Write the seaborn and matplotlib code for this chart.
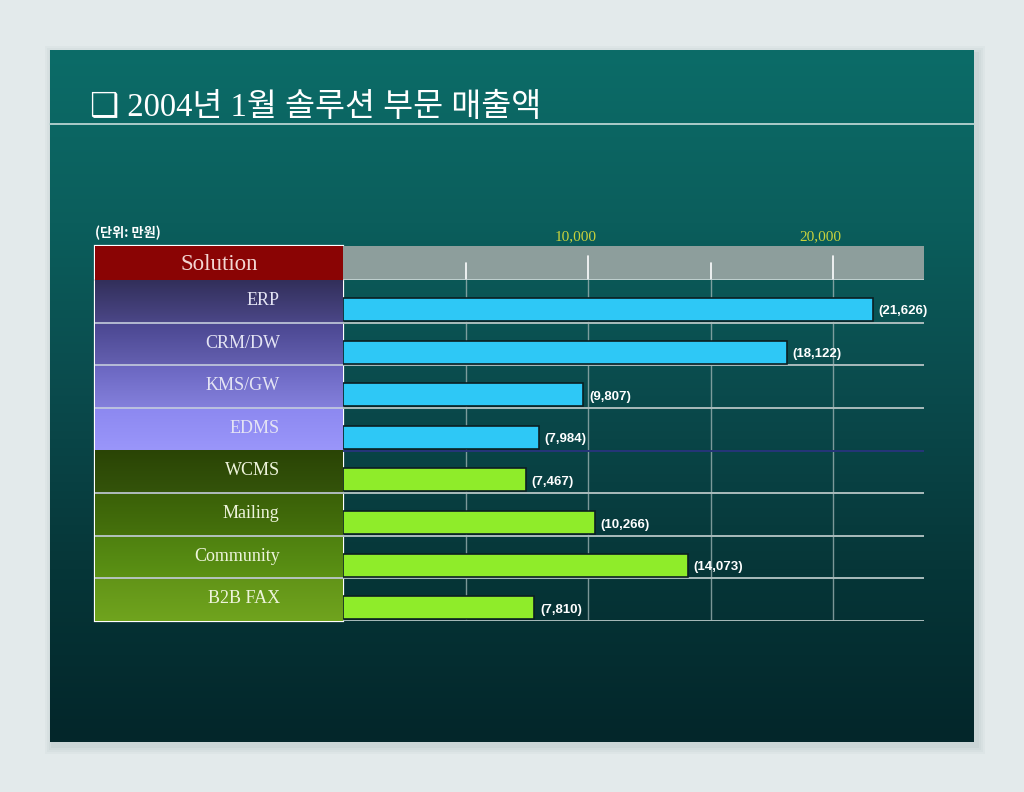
import numpy as np
import pandas as pd
import matplotlib
matplotlib.use("Agg")
import matplotlib.pyplot as plt
from matplotlib.colors import LinearSegmentedColormap
from matplotlib.patches import Rectangle
import seaborn as sns

# ---------------- data ----------------
categories = ["ERP", "CRM/DW", "KMS/GW", "EDMS", "WCMS", "Mailing", "Community", "B2B FAX"]
values = [21626, 18122, 9807, 7984, 7467, 10266, 14073, 7810]
value_labels = ["(21,626)", "(18,122)", "(9,807)", "(7,984)", "(7,467)", "(10,266)", "(14,073)", "(7,810)"]
groups = ["blue", "blue", "blue", "blue", "green", "green", "green", "green"]
tick_values = [5000, 10000, 15000, 20000]
tick_labels = ["", "10,000", "", "20,000"]
title = "❑ 2004년 1월 솔루션 부문 매출액"
unit_text = "(단위: 만원)"
header_text = "Solution"

# ---------------- style ----------------
sns.set_style("white")
plt.rcParams["font.family"] = ["Liberation Serif", "Noto Sans CJK KR", "DejaVu Sans"]

W, H = 1024, 792
fig = plt.figure(figsize=(W / 100, H / 100), dpi=100)
fig.patch.set_facecolor("#e3eaeb")

def rect(l, t, r, b):
    return [l / W, 1 - b / H, (r - l) / W, (b - t) / H]

# background canvas
bg = fig.add_axes([0, 0, 1, 1])
bg.set_xlim(0, W)
bg.set_ylim(H, 0)
bg.axis("off")
for i, a in enumerate([0.05, 0.05, 0.06, 0.07]):
    d = 8 - 2 * i
    bg.add_patch(Rectangle((50 - d + 3, 50 - d + 4), 924 + 2 * d, 692 + 2 * d,
                           color="#7a8c8e", alpha=a, lw=0))
panel_cmap = LinearSegmentedColormap.from_list(
    "panel", ["#0c6c68", "#0b5e5c", "#0a4a4c", "#063638", "#03262a"])
grad = np.linspace(0, 1, 256).reshape(-1, 1)
bg.imshow(grad, extent=(50, 974, 742, 50), aspect="auto", cmap=panel_cmap, zorder=1)
bg.plot([50, 974], [124, 124], color="#b9d3d1", lw=1.3, zorder=2)
bg.text(90, 108, title, color="white", fontsize=23.5, va="center", ha="left", zorder=3,
        family=["Liberation Serif", "Noto Sans CJK KR", "DejaVu Sans"])
bg.text(95, 233, unit_text, color="white", fontsize=9.5, fontweight="bold",
        va="center", ha="left", zorder=3, family=["Noto Sans CJK KR", "DejaVu Sans"])

# ---------------- bar axes ----------------
ax = fig.add_axes(rect(343, 280, 924, 621))
ax.set_facecolor("none")
df = pd.DataFrame({"category": categories, "value": values, "group": groups})
pal = {"blue": "#2ec8f6", "green": "#8fec2a"}
sns.barplot(data=df, x="value", y="category", hue="group", palette=pal, orient="h",
            dodge=False, legend=False, width=0.54, edgecolor="#0b1f22", linewidth=1.2,
            saturation=1, ax=ax, zorder=3)
XMAX = 23700
ax.set_xlim(0, XMAX)
off = 0.31
ax.set_ylim(len(categories) - 1 + off, -1 + off)
for x in tick_values:
    ax.axvline(x, color="#a4b8b8", lw=1.0, alpha=0.75, zorder=1)
for k in range(len(categories)):
    col = "#26357a" if k == 3 else "#aabcbc"
    ax.axhline(k + off, color=col, lw=1.4, zorder=2)
for k, (v, lab) in enumerate(zip(values, value_labels)):
    ax.annotate(lab, (v, k), xytext=(4, -1.5), textcoords="offset points",
                color="white", fontsize=9.5, fontweight="bold", va="center", ha="left",
                family="Liberation Sans", zorder=4)
ax.set_xlabel("")
ax.set_ylabel("")
ax.set_xticks([])
ax.set_yticks([])
for s in ax.spines.values():
    s.set_visible(False)

# ---------------- header band ----------------
hx = fig.add_axes(rect(343, 246, 924, 280))
hx.set_facecolor("#8d9e9c")
hx.set_xlim(0, XMAX)
hx.set_ylim(0, 1)
for x, lab in zip(tick_values, tick_labels):
    top = 0.7 if lab else 0.5
    hx.plot([x, x], [0, top], color="white", lw=1.2)
    if lab:
        hx.annotate(lab, (x, 1), xytext=(-9, 6.5), textcoords="offset points",
                    color="#c9d23c", fontsize=11, ha="center", va="center",
                    annotation_clip=False)
hx.set_xticks([])
hx.set_yticks([])
for s in hx.spines.values():
    s.set_visible(False)
hx.axhline(0, color="#c8d8d8", lw=1.2)

# ---------------- table column ----------------
tx = fig.add_axes(rect(95, 280, 343, 621))
tx.set_xlim(0, 1)
tx.set_ylim(len(categories) - 1 + off, -1 + off)
tx.axis("off")
cell_colors = [("#322f5a", "#4b4788"), ("#4a4690", "#6460b0"), ("#6a66c0", "#8480dc"),
               ("#8c88f0", "#9a96fa"), ("#2a4405", "#34540a"), ("#3a6008", "#46720c"),
               ("#4e8010", "#5c9214"), ("#629418", "#70a41e")]
text_colors = ["#e4e4f4"] * 4 + ["#eef4dc"] * 4
for k, (cat, (c1, c2), tc) in enumerate(zip(categories, cell_colors, text_colors)):
    cm = LinearSegmentedColormap.from_list("c%d" % k, [c1, c2])
    tx.imshow(grad, extent=(0, 1, k + off, k - 1 + off), aspect="auto", cmap=cm, zorder=1)
    tx.text(0.745, k - 0.5 + off - 0.02, cat, color=tc, fontsize=13,
            ha="right", va="center", zorder=3)
    if k > 0 and k != 4:
        tx.plot([0, 1], [k - 1 + off, k - 1 + off], color="#c4ccdc", lw=1.2, zorder=2)

# header cell
rx = fig.add_axes(rect(95, 246, 343, 280))
rx.set_facecolor("#8a0404")
rx.set_xticks([])
rx.set_yticks([])
for s in rx.spines.values():
    s.set_visible(False)
rx.text(0.5, 0.47, header_text, color="#f3d6d2", fontsize=16.5, ha="center", va="center",
        transform=rx.transAxes)

# table border
bg.add_patch(Rectangle((95, 246), 248, 375, fill=False, ec="white", lw=1.6, zorder=10))
bg.plot([95, 343], [280, 280], color="#d8d0d0", lw=1.2, zorder=10)

fig.savefig("out.png", dpi=100, facecolor=fig.get_facecolor())
